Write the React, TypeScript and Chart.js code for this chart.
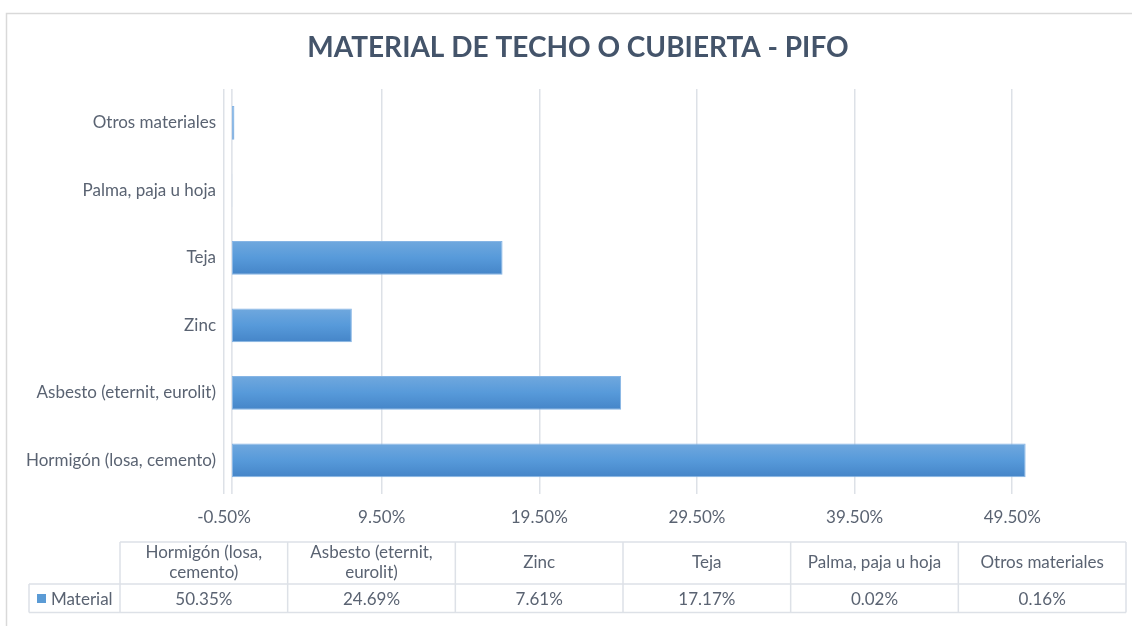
import React, { useEffect, useRef } from 'react';
import { Chart, registerables } from 'chart.js';

Chart.register(...registerables);

const title = 'MATERIAL DE TECHO O CUBIERTA - PIFO';
const seriesName = 'Material';
const categories = [
  'Hormigón (losa, cemento)',
  'Asbesto (eternit, eurolit)',
  'Zinc',
  'Teja',
  'Palma, paja u hoja',
  'Otros materiales',
];
const values = [50.35, 24.69, 7.61, 17.17, 0.02, 0.16];
const tickValues = [-0.5, 9.5, 19.5, 29.5, 39.5, 49.5];

const FONT = 'Lato, "Open Sans", sans-serif';
const TEXT = '#5a6372';
const GRID = '#dde1e7';
const BAR = '#5B9BD5';
const FS = 17;

const fmt = (v: number) => v.toFixed(2) + '%';

function wrap(ctx: CanvasRenderingContext2D, text: string, maxW: number): string[] {
  const words = text.split(' ');
  const lines: string[] = [];
  let cur = '';
  for (const w of words) {
    const t = cur ? cur + ' ' + w : w;
    if (ctx.measureText(t).width > maxW && cur) {
      lines.push(cur);
      cur = w;
    } else cur = t;
  }
  if (cur) lines.push(cur);
  return lines;
}

const framePlugin = {
  id: 'frame',
  beforeDraw(chart: any) {
    const { ctx, width, height } = chart;
    ctx.save();
    ctx.fillStyle = '#ffffff';
    ctx.fillRect(0, 0, width, height);
    ctx.strokeStyle = '#d9d9d9';
    ctx.lineWidth = 1.5;
    ctx.strokeRect(6.5, 13.5, width + 20, height + 20);
    // title
    ctx.fillStyle = '#44546A';
    ctx.font = `bold 28px ${FONT}`;
    ctx.textAlign = 'center';
    ctx.textBaseline = 'middle';
    ctx.fillText(title, 578, 48);
    ctx.restore();
  },
};

const barStylePlugin = {
  id: 'barStyle',
  beforeDatasetsDraw(chart: any) {
    const { ctx, chartArea, scales } = chart;
    const x0 = scales.x.getPixelForValue(0);
    ctx.save();
    ctx.strokeStyle = GRID;
    ctx.lineWidth = 1.5;
    ctx.beginPath();
    ctx.moveTo(x0, chartArea.top);
    ctx.lineTo(x0, chartArea.bottom);
    ctx.stroke();
    ctx.restore();
    const meta = chart.getDatasetMeta(0);
    meta.data.forEach((bar: any) => {
      const p = bar.getProps(['y', 'height'], true);
      const g = ctx.createLinearGradient(0, p.y - p.height / 2, 0, p.y + p.height / 2);
      g.addColorStop(0, '#70A8DE');
      g.addColorStop(0.5, '#579ADA');
      g.addColorStop(1, '#4585C8');
      bar.options.backgroundColor = g;
    });
  },
};

const tablePlugin = {
  id: 'dataTable',
  afterDraw(chart: any) {
    const { ctx } = chart;
    const x0 = 29;
    const xc = 120;
    const xr = 1126;
    const top = 542;
    const mid = 584;
    const bottom = 612.5;
    const n = categories.length;
    const colW = (xr - xc) / n;
    ctx.save();
    ctx.strokeStyle = GRID;
    ctx.lineWidth = 1.5;
    ctx.beginPath();
    ctx.moveTo(xc, top); ctx.lineTo(xr, top);
    ctx.moveTo(x0, mid); ctx.lineTo(xr, mid);
    ctx.moveTo(x0, bottom); ctx.lineTo(xr, bottom);
    ctx.moveTo(x0, mid); ctx.lineTo(x0, bottom);
    for (let i = 0; i <= n; i++) {
      const x = xc + i * colW;
      ctx.moveTo(x, top); ctx.lineTo(x, bottom);
    }
    ctx.stroke();

    ctx.fillStyle = TEXT;
    ctx.font = `${FS}px ${FONT}`;
    ctx.textAlign = 'center';
    ctx.textBaseline = 'middle';
    const lh = 20;
    categories.forEach((c, i) => {
      const cx = xc + (i + 0.5) * colW;
      const lines = wrap(ctx, c, colW - 14);
      const cy = (top + mid) / 2 - ((lines.length - 1) * lh) / 2;
      lines.forEach((l, j) => ctx.fillText(l, cx, cy + j * lh));
      ctx.fillText(fmt(values[i]), cx, (mid + bottom) / 2 + 1);
    });
    ctx.fillStyle = BAR;
    ctx.fillRect(37, 594, 9, 9);
    ctx.fillStyle = TEXT;
    ctx.textAlign = 'left';
    ctx.fillText(seriesName, 51, (mid + bottom) / 2 + 1);
    ctx.restore();
  },
};

export default function App() {
  const ref = useRef<HTMLCanvasElement | null>(null);
  useEffect(() => {
    document.body.style.margin = '0';
    if (!ref.current) return;
    const chart = new Chart(ref.current, {
      type: 'bar',
      data: {
        labels: categories,
        datasets: [
          {
            label: seriesName,
            data: values,
            backgroundColor: () => BAR,
            borderColor: '#86B5E5',
            borderWidth: 1,
            borderSkipped: false,
            barPercentage: 0.5,
            categoryPercentage: 1,
          },
        ],
      },
      options: {
        indexAxis: 'y',
        animation: false,
        responsive: true,
        maintainAspectRatio: false,
        layout: { padding: { top: 89, left: 0, right: 104, bottom: 92 } },
        plugins: {
          legend: { display: false },
          tooltip: { enabled: false },
          title: { display: false },
        },
        scales: {
          x: {
            type: 'linear',
            min: -0.5,
            max: 50.5,
            afterBuildTicks: (s: any) => {
              s.ticks = tickValues.map((v) => ({ value: v }));
            },
            afterFit: (s: any) => {
              s.height = 40;
            },
            ticks: {
              color: TEXT,
              font: { family: FONT, size: FS },
              padding: 13,
              callback: (v: any) => fmt(Number(v)),
            },
            grid: { color: GRID, lineWidth: 1.5, drawTicks: false },
            border: { display: false },
          },
          y: {
            reverse: true,
            afterFit: (s: any) => {
              s.width = 224;
            },
            ticks: {
              color: TEXT,
              font: { family: FONT, size: FS },
              padding: 8,
            },
            grid: { display: false, drawTicks: false },
            border: { display: false },
          },
        },
      },
      plugins: [framePlugin, barStylePlugin, tablePlugin],
    });
    return () => chart.destroy();
  }, []);
  return (
    <div style={{ position: 'relative', width: 1132, height: 626 }}>
      <canvas ref={ref} />
    </div>
  );
}
